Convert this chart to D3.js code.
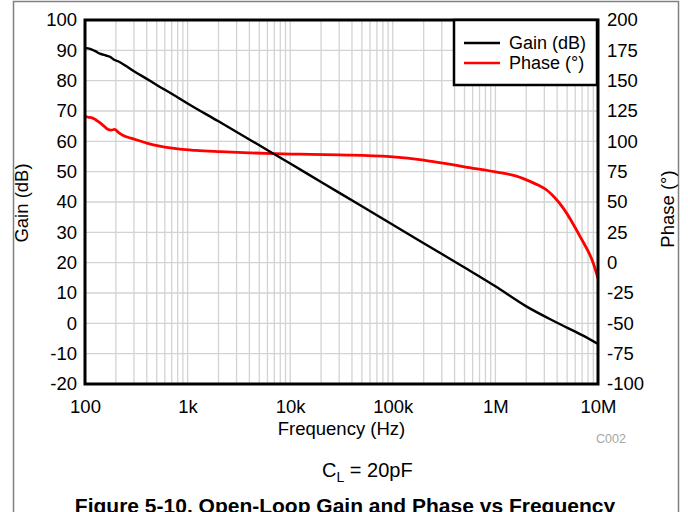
<!DOCTYPE html>
<html>
<head>
<meta charset="utf-8">
<script src="https://cdn.jsdelivr.net/npm/d3@7/dist/d3.min.js"></script>
<style>
  html, body { margin: 0; padding: 0; background: #fff; }
  svg { display: block; font-family: "Liberation Sans", Arial, sans-serif; }
</style>
</head>
<body>
<svg id="chart" width="688" height="512"></svg>
<script>
// Open-loop gain (dB) vs frequency (Hz)
const gainFreq = [100, 112, 125, 140, 160, 175, 190, 210, 250, 300, 400, 500, 700, 1000, 2000, 5000, 10000, 20000, 50000, 100000, 200000, 500000, 1e6, 2e6, 4e6, 7e6, 1e7];
const gainDb   = [90.8, 90.5, 89.8, 88.9, 88.3, 87.9, 87.0, 86.4, 84.9, 83.1, 80.6, 78.6, 75.7, 72.5, 66.6, 58.7, 52.7, 46.6, 38.6, 32.5, 26.4, 18.4, 12.2, 5.6, 0.2, -3.9, -6.8];

// Open-loop phase (degrees) vs frequency (Hz)
const phaseFreq = [100, 108, 115, 125, 135, 150, 165, 180, 195, 210, 236, 280, 344, 400, 464, 600, 843, 1200, 2070, 4000, 7000, 12500, 30000, 94000, 200000, 309000, 500000, 1.1e6, 1.6e6, 2.17e6, 2.6e6, 3.16e6, 3.8e6, 4.6e6, 6.7e6, 9e6, 1e7];
const phaseDeg  = [121, 119.8, 119.6, 118.2, 116.2, 113.2, 110.2, 109.3, 109.8, 107.6, 104.8, 102.6, 100.3, 98.6, 97.1, 95.2, 93.5, 92.5, 91.5, 90.5, 89.8, 89.4, 88.8, 87.4, 84.6, 82.0, 79.0, 74.2, 71.3, 67.0, 64.0, 59.9, 53.5, 44.8, 21.4, -0.5, -13];

// Axis ticks
const freqTicks = [100, 1e3, 1e4, 1e5, 1e6, 1e7];
const freqTickLabels = ["100", "1k", "10k", "100k", "1M", "10M"];
const gainTicks = [100, 90, 80, 70, 60, 50, 40, 30, 20, 10, 0, -10, -20];
const phaseTicks = [200, 175, 150, 125, 100, 75, 50, 25, 0, -25, -50, -75, -100];

const svg = d3.select("#chart");
const plot = { left: 85, right: 598, top: 20, bottom: 384 };

const x = d3.scaleLog().domain([100, 1e7]).range([plot.left, plot.right]);
const yG = d3.scaleLinear().domain([-20, 100]).range([plot.bottom, plot.top]);
const yP = d3.scaleLinear().domain([-100, 200]).range([plot.bottom, plot.top]);

// Outer figure frame
svg.append("path")
  .attr("d", "M13.5,520 V1.5 H678.5 V520")
  .attr("fill", "none").attr("stroke", "#808080").attr("stroke-width", 1.5);

// Minor log grid (verticals at every 1..9 multiple)
const minor = [];
for (let d = 100; d < 1e7; d *= 10) for (let m = 1; m <= 9; m++) minor.push(d * m);
minor.push(1e7);
const grid = svg.append("g").attr("stroke", "#d3d3d3").attr("stroke-width", 1.3);
grid.selectAll("line.v").data(minor).join("line")
  .attr("x1", d => x(d)).attr("x2", d => x(d))
  .attr("y1", plot.top).attr("y2", plot.bottom);
grid.selectAll("line.h").data(gainTicks).join("line")
  .attr("x1", plot.left).attr("x2", plot.right)
  .attr("y1", d => yG(d)).attr("y2", d => yG(d));

// Curves
const gainPts = gainFreq.map((f, i) => [f, gainDb[i]]);
const phasePts = phaseFreq.map((f, i) => [f, phaseDeg[i]]);

svg.append("path")
  .attr("d", d3.line().x(d => x(d[0])).y(d => yP(d[1])).curve(d3.curveMonotoneX)(phasePts))
  .attr("fill", "none").attr("stroke", "#ff0000").attr("stroke-width", 2.8).attr("stroke-linejoin", "round");
svg.append("path")
  .attr("d", d3.line().x(d => x(d[0])).y(d => yG(d[1])).curve(d3.curveMonotoneX)(gainPts))
  .attr("fill", "none").attr("stroke", "#000").attr("stroke-width", 2.4).attr("stroke-linejoin", "round");

// Plot frame
svg.append("rect")
  .attr("x", plot.left).attr("y", plot.top)
  .attr("width", plot.right - plot.left).attr("height", plot.bottom - plot.top)
  .attr("fill", "none").attr("stroke", "#000").attr("stroke-width", 3);

// Axes (labels only; the frame draws the lines)
const fontSize = "18.5px";
const xAxis = svg.append("g").attr("transform", `translate(0,${plot.bottom})`)
  .call(d3.axisBottom(x).tickValues(freqTicks).tickFormat((d, i) => freqTickLabels[i]).tickSize(0).tickPadding(16));
const yAxisL = svg.append("g").attr("transform", `translate(${plot.left},0)`)
  .call(d3.axisLeft(yG).tickValues(gainTicks).tickFormat(d => String(d)).tickSize(0).tickPadding(8));
const yAxisR = svg.append("g").attr("transform", `translate(${plot.right},0)`)
  .call(d3.axisRight(yP).tickValues(phaseTicks).tickFormat(d => String(d)).tickSize(0).tickPadding(9));
[xAxis, yAxisL, yAxisR].forEach(a => {
  a.select(".domain").remove();
  a.selectAll("text").attr("font-size", fontSize).attr("fill", "#000")
    .attr("font-family", "'Liberation Sans', Arial, sans-serif");
});

// Axis titles
svg.append("text").attr("x", (plot.left + plot.right) / 2).attr("y", 435)
  .attr("text-anchor", "middle").attr("font-size", fontSize).text("Frequency (Hz)");
svg.append("text").attr("transform", "translate(28,203) rotate(-90)")
  .attr("text-anchor", "middle").attr("font-size", fontSize).text("Gain (dB)");
svg.append("text").attr("transform", "translate(674,209) rotate(-90)")
  .attr("text-anchor", "middle").attr("font-size", fontSize).text("Phase (°)");

// Small figure id
svg.append("text").attr("x", 611).attr("y", 443).attr("text-anchor", "middle")
  .attr("font-size", "12.5px").attr("fill", "#a6a6a6").text("C002");

// Condition label
const cond = svg.append("text").attr("x", 322).attr("y", 477)
  .attr("text-anchor", "start").attr("font-size", "20px");
cond.append("tspan").text("C");
cond.append("tspan").attr("font-size", "14px").attr("dy", 5).text("L");
cond.append("tspan").attr("dy", -5).text(" = 20pF");

// Caption
svg.append("text").attr("x", 345).attr("y", 513).attr("text-anchor", "middle")
  .attr("font-size", "21px").attr("font-weight", "bold")
  .text("Figure 5-10. Open-Loop Gain and Phase vs Frequency");

// Legend
const leg = svg.append("g");
leg.append("rect").attr("x", 454).attr("y", 20).attr("width", 143).attr("height", 65)
  .attr("fill", "#fff").attr("stroke", "#000").attr("stroke-width", 2.5);
const legendItems = [
  { label: "Gain (dB)", color: "#000", y: 43 },
  { label: "Phase (°)", color: "#ff0000", y: 63 }
];
legendItems.forEach(it => {
  leg.append("line").attr("x1", 464).attr("x2", 500).attr("y1", it.y).attr("y2", it.y)
    .attr("stroke", it.color).attr("stroke-width", 2.5);
  leg.append("text").attr("x", 509).attr("y", it.y + 5.5).attr("font-size", "18px").text(it.label);
});
</script>
</body>
</html>
